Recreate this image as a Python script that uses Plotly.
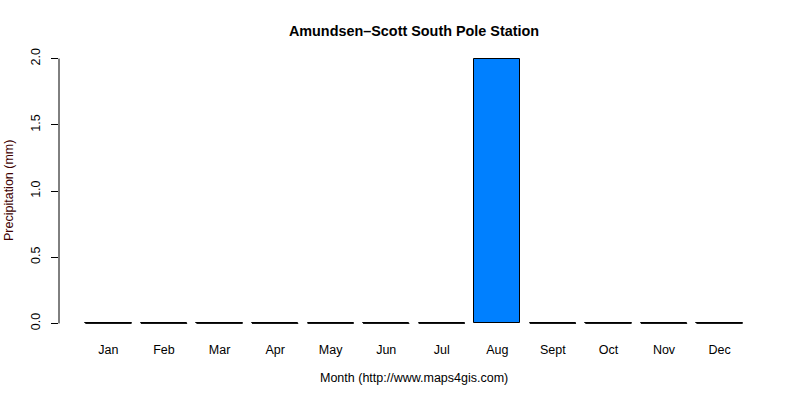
import plotly.graph_objects as go

# data ##########################################################
months = ["Jan", "Feb", "Mar", "Apr", "May", "Jun",
          "Jul", "Aug", "Sept", "Oct", "Nov", "Dec"]
precip_mm = [0, 0, 0, 0, 0, 0, 0, 2, 0, 0, 0, 0]
y_ticks = [0, 0.5, 1.0, 1.5, 2.0]

# R barplot style positions: width 1, space 0.2
bar_w = 1.0
space = 0.2
centers = [space + i * (bar_w + space) + bar_w / 2 for i in range(len(months))]

fig = go.Figure()

fig.add_trace(go.Bar(
    x=centers, y=precip_mm, width=bar_w,
    marker=dict(color="#0080ff", line=dict(color="black", width=1)),
    showlegend=False,
))

# zero height bars are not drawn by plotly, so draw their outline as a line
zx, zy = [], []
for c, v in zip(centers, precip_mm):
    if v == 0:
        zx += [c - bar_w / 2, c + bar_w / 2, None]
        zy += [v, v, None]
fig.add_trace(go.Scatter(x=zx, y=zy, mode="lines",
                         line=dict(color="black", width=1),
                         showlegend=False, hoverinfo="skip"))

# axis ranges with R's 4% expansion
x_lo, x_hi = centers[0] - bar_w / 2, centers[-1] + bar_w / 2
x_pad = (x_hi - x_lo) * 0.04
y_pad = (max(y_ticks) - min(y_ticks)) * 0.04

fig.update_layout(
    width=800, height=400,
    plot_bgcolor="white", paper_bgcolor="white",
    margin=dict(l=59, r=31, t=48, b=66),
    font=dict(family="Liberation Sans, Arial, sans-serif", size=12.5, color="black"),
    title=dict(text="<b>Amundsen–Scott South Pole Station</b>",
               x=0.5, xanchor="center", xref="paper", y=0.922, yanchor="middle",
               font=dict(size=14.4, color="black")),
    bargap=0,
)

fig.update_xaxes(
    range=[x_lo - x_pad, x_hi + x_pad],
    tickmode="array", tickvals=centers, ticktext=months,
    showline=False, showgrid=False, zeroline=False,
    ticks="", ticklabelstandoff=6, automargin=False,
)

fig.update_yaxes(
    range=[min(y_ticks) - y_pad, max(y_ticks) + y_pad],
    tickmode="array", tickvals=y_ticks, tickformat=".1f",
    tickangle=-90,
    showline=False, showgrid=False, zeroline=False,
    ticks="outside", ticklen=7, tickcolor="black", tickwidth=1,
    ticklabelstandoff=6, automargin=False,
)

# axis titles as annotations so they sit where R puts them
fig.add_annotation(text="Month (http://www.maps4gis.com)",
                   xref="paper", yref="paper", x=0.5, y=0,
                   xanchor="center", yanchor="middle", yshift=-44,
                   showarrow=False, font=dict(size=12.5, color="black"))
fig.add_annotation(text="Precipitation (mm)", textangle=-90,
                   xref="paper", yref="paper", x=0, y=0.5,
                   xanchor="center", yanchor="middle", xshift=-50,
                   showarrow=False, font=dict(size=12.5, color="#400000"))

# y axis line only spans the tick range, like R
fig.add_shape(type="line", xref="paper", yref="y",
              x0=0, x1=0, y0=min(y_ticks), y1=max(y_ticks),
              line=dict(color="black", width=1))

# drop the default page margin so the figure sits at the window corner
fig.write_html("out.html", config={"displayModeBar": False},
               post_script="document.body.style.margin='0';")
